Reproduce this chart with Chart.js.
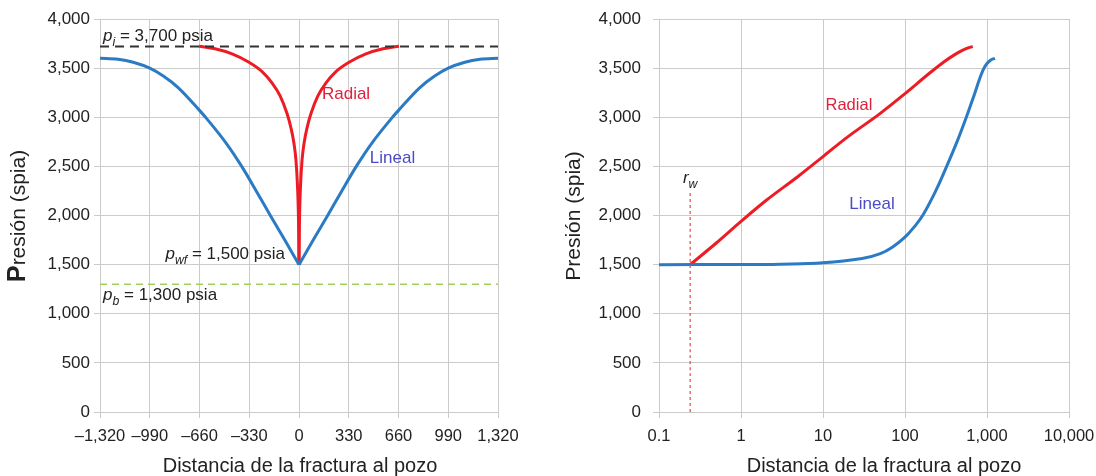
<!DOCTYPE html>
<html><head><meta charset="utf-8">
<script src="https://cdn.jsdelivr.net/npm/chart.js@4.4.1/dist/chart.umd.min.js"></script>
<style>
html,body{margin:0;padding:0;background:#fff;width:1096px;height:476px;overflow:hidden}
#l{position:absolute;left:0;top:0;width:540px;height:476px}
#r{position:absolute;left:540px;top:0;width:556px;height:476px}
</style></head><body>
<div id="l"><canvas id="cl" width="540" height="476"></canvas></div>
<div id="r"><canvas id="cr" width="556" height="476"></canvas></div>
<script>
const FONT = "'Liberation Sans', Arial, Helvetica, sans-serif";

// ---- tick labels ----
const pressureTicks = [0, 500, 1000, 1500, 2000, 2500, 3000, 3500, 4000];
const linearDistTicks = [-1320, -990, -660, -330, 0, 330, 660, 990, 1320];
const logDistTicks = [0.1, 1, 10, 100, 1000, 10000];

// ---- Left panel (linear distance): Lineal flow ----
const linealDist = [0, 100, 190, 280, 380, 480, 620, 660, 800, 900, 990, 1100, 1200, 1320];
const linealP    = [1500, 1765, 2000, 2240, 2500, 2730, 3000, 3070, 3300, 3420, 3500, 3560, 3590, 3600];

// ---- Left panel (linear distance): Radial flow ----
const radialDistLin = [0, 3.3, 10, 20, 33, 53, 80, 126, 179, 245, 332, 444, 557, 663];
const radialPLin    = [1500, 1950, 2300, 2560, 2730, 2890, 3040, 3220, 3350, 3465, 3560, 3645, 3697, 3722];

// ---- Right panel (log distance): Lineal flow ----
const linealDistLog = [0.1, 1, 3, 10, 30, 50, 70, 100, 130, 167, 240, 322, 440, 565, 700, 820, 946, 1100, 1250];
const linealPLog    = [1500, 1501, 1505, 1518, 1562, 1612, 1678, 1780, 1885, 2010, 2260, 2500, 2770, 3010, 3230, 3400, 3520, 3580, 3600];

// ---- Right panel (log distance): Radial flow ----
const radialDistLog = [0.24, 0.5, 1, 2, 5, 10, 20, 50, 100, 200, 300, 400, 500, 600, 670];
const radialPLog    = [1500, 1720, 1940, 2150, 2400, 2600, 2800, 3040, 3240, 3450, 3565, 3635, 3680, 3708, 3720];

// ---- reference levels ----
const pInitialLine = 3720;   // p_i dashed line
const pBubbleLine = 1300;    // p_b dashed line
const rwDist = 0.24;         // wellbore radius marker
const rwTop = 2250;

const BLUE = '#2a7bc4', RED = '#ed1c24', LINEAL_TXT = '#4b4bc8', RADIAL_TXT = '#e0203c';
const GRID = '#cbcbcb', TXT = '#222';

function pts(xs, ys, sign) { return xs.map((x, i) => ({ x: sign * x, y: ys[i] })); }

function richText(ctx, x, y, parts, size, color, align) {
  const fonts = parts.map(p => (p.it ? 'italic ' : '') + (p.b ? 'bold ' : '') +
    (p.sub ? size * 0.72 : p.big ? size * p.big : size) + 'px ' + FONT);
  let w = 0;
  const ws = parts.map((p, i) => { ctx.font = fonts[i]; const m = ctx.measureText(p.t).width; w += m; return m; });
  let cx = align === 'right' ? x - w : align === 'center' ? x - w / 2 : x;
  ctx.fillStyle = color; ctx.textBaseline = 'alphabetic'; ctx.textAlign = 'left';
  parts.forEach((p, i) => { ctx.font = fonts[i]; ctx.fillText(p.t, cx, y + (p.sub ? size * 0.3 : 0)); cx += ws[i]; });
}

const annotPlugin = {
  id: 'annot',
  afterDatasetsDraw(chart, args, opts) {
    const ctx = chart.ctx, xs = chart.scales.x, ys = chart.scales.y;
    ctx.save();
    (opts.items || []).forEach(a => {
      richText(ctx, xs.getPixelForValue(a.x), ys.getPixelForValue(a.y), a.parts, a.size, a.color, a.align);
    });
    const t = opts.titles;
    if (t) {
      ctx.save();
      ctx.translate(t.yx, t.yy);
      ctx.rotate(-Math.PI / 2);
      richText(ctx, 0, 7, t.yparts, t.ysize, TXT, 'center');
      ctx.restore();
      richText(ctx, t.xx, t.xy, [{ t: 'Distancia de la fractura al pozo' }], t.xsize, TXT, 'center');
    }
    ctx.restore();
  }
};

function baseScales(xType, xMin, xMax, xTicks, xFmt, yWidth, yPad) {
  return {
    x: {
      type: xType, min: xMin, max: xMax,
      afterBuildTicks: s => { s.ticks = xTicks.map(v => ({ value: v })); },
      afterFit: s => { s.height = 64; s.paddingLeft = 0; s.paddingRight = 0; },
      grid: { color: GRID, lineWidth: 1, tickLength: 6 },
      border: { color: GRID },
      ticks: { color: TXT, font: { family: FONT, size: 16.5 }, padding: 9, maxRotation: 0, autoSkip: false, callback: xFmt }
    },
    y: {
      type: 'linear', min: 0, max: 4000,
      afterBuildTicks: s => { s.ticks = pressureTicks.map(v => ({ value: v })); },
      afterFit: s => { s.width = yWidth; s.paddingTop = 0; s.paddingBottom = 0; },
      grid: { color: GRID, lineWidth: 1, tickLength: 6 },
      border: { color: GRID },
      ticks: { color: TXT, font: { family: FONT, size: 17 }, padding: yPad, callback: v => v.toLocaleString('en-US') }
    }
  };
}

const lineDS = (data, color, width, dash, smooth) => ({
  data, borderColor: color, borderWidth: width, borderDash: dash || [], pointRadius: 0,
  cubicInterpolationMode: smooth ? 'default' : 'monotone', tension: smooth ? 0.4 : 0, fill: false
});

// ---------- Left chart (linear distance) ----------
new Chart(document.getElementById('cl'), {
  type: 'line',
  data: {
    datasets: [
      lineDS([{ x: -1320, y: pBubbleLine }, { x: 1320, y: pBubbleLine }], '#9fd15a', 1.6, [7, 5]),
      lineDS([{ x: -1320, y: pInitialLine }, { x: 1320, y: pInitialLine }], '#333333', 2.2, [9, 6]),
      lineDS(pts(linealDist, linealP, -1), BLUE, 3),
      lineDS(pts(linealDist, linealP, 1), BLUE, 3),
      lineDS(pts(radialDistLin, radialPLin, -1), RED, 3),
      lineDS(pts(radialDistLin, radialPLin, 1), RED, 3)
    ]
  },
  options: {
    responsive: false, animation: false,
    layout: { autoPadding: false, padding: { left: 0, top: 19, right: 42, bottom: 0 } },
    plugins: {
      legend: { display: false }, tooltip: { enabled: false },
      annot: {
        items: [
          { x: -1300, y: 3774, align: 'left', size: 17, color: TXT, parts: [{ t: 'p', it: true }, { t: 'i', it: true, sub: true }, { t: ' = 3,700 psia' }] },
          { x: 312, y: 3184, align: 'center', size: 17, color: RADIAL_TXT, parts: [{ t: 'Radial' }] },
          { x: 620, y: 2533, align: 'center', size: 17, color: LINEAL_TXT, parts: [{ t: 'Lineal' }] },
          { x: -93, y: 1556, align: 'right', size: 17, color: TXT, parts: [{ t: 'p', it: true }, { t: 'wf', it: true, sub: true }, { t: ' = 1,500 psia' }] },
          { x: -1300, y: 1145, align: 'left', size: 17, color: TXT, parts: [{ t: 'p', it: true }, { t: 'b', it: true, sub: true }, { t: ' = 1,300 psia' }] }
        ],
        titles: { yx: 18, yy: 216, ysize: 21, yparts: [{ t: 'P', b: true, big: 1.2 }, { t: 'resión (spia)' }], xx: 300, xy: 472, xsize: 20 }
      }
    },
    scales: baseScales('linear', -1320, 1320, linearDistTicks,
      v => v < 0 ? '\u2013' + Math.abs(v).toLocaleString('en-US') : v.toLocaleString('en-US'), 100, 4)
  },
  plugins: [annotPlugin]
});

// ---------- Right chart (log distance) ----------
new Chart(document.getElementById('cr'), {
  type: 'line',
  data: {
    datasets: [
      lineDS([{ x: rwDist, y: 0 }, { x: rwDist, y: rwTop }], '#e05a5a', 1.3, [3, 3]),
      lineDS(pts(linealDistLog, linealPLog, 1), BLUE, 3, null, true),
      lineDS(pts(radialDistLog, radialPLog, 1), RED, 3)
    ]
  },
  options: {
    responsive: false, animation: false,
    layout: { autoPadding: false, padding: { left: 0, top: 19, right: 27, bottom: 0 } },
    plugins: {
      legend: { display: false }, tooltip: { enabled: false },
      annot: {
        items: [
          { x: 20.7, y: 3072, align: 'center', size: 16.5, color: RADIAL_TXT, parts: [{ t: 'Radial' }] },
          { x: 39.6, y: 2065, align: 'center', size: 17, color: LINEAL_TXT, parts: [{ t: 'Lineal' }] },
          { x: rwDist, y: 2330, align: 'center', size: 17, color: TXT, parts: [{ t: 'r', it: true }, { t: 'w', it: true, sub: true }] }
        ],
        titles: { yx: 33, yy: 216, ysize: 21, yparts: [{ t: 'Presión (spia)' }], xx: 344, xy: 472, xsize: 20 }
      }
    },
    scales: baseScales('logarithmic', 0.1, 10000, logDistTicks, v => v.toLocaleString('en-US'), 119, 12)
  },
  plugins: [annotPlugin]
});
</script>
</body></html>
